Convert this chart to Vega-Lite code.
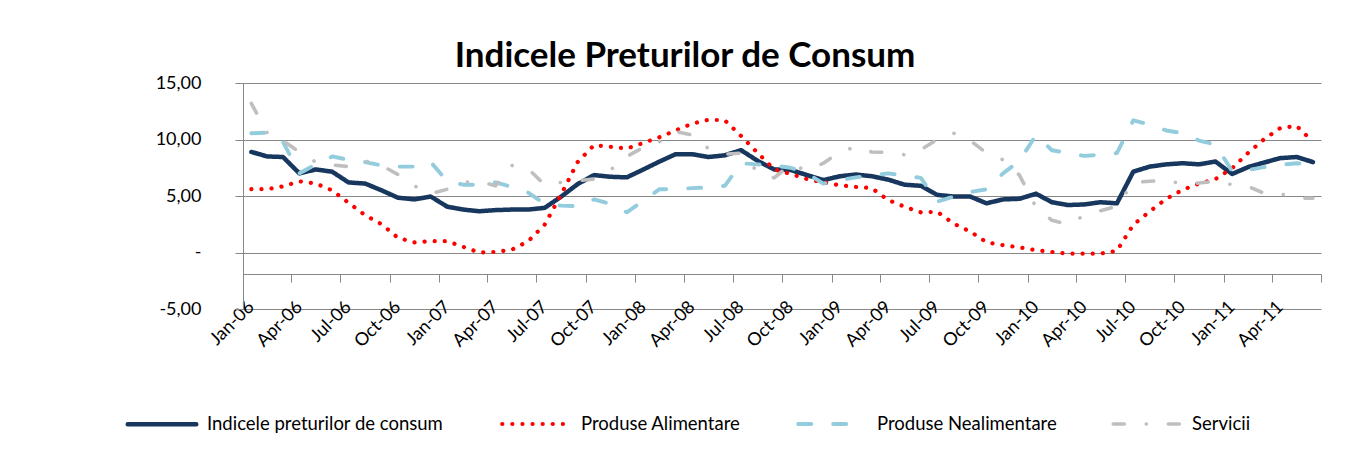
{
  "$schema": "https://vega.github.io/schema/vega-lite/v6.json",
  "width": 1078,
  "height": 226,
  "autosize": "none",
  "padding": {"left": 243, "top": 83, "right": 25, "bottom": 141},
  "background": "white",
  "config": {
    "font": "Lato",
    "view": {"stroke": null}
  },
  "title": {
    "text": "Indicele Preturilor de Consum",
    "font": "Lato",
    "fontSize": 35,
    "fontWeight": "bold",
    "color": "#000000",
    "anchor": "middle",
    "baseline": "alphabetic",
    "offset": -28,
    "dx": -97
  },
  "data": {
    "values": [
      {"d": "2006/01/01", "ipc": 8.9, "ali": 5.6, "nea": 10.55, "ser": 13.2},
      {"d": "2006/02/01", "ipc": 8.5, "ali": 5.6, "nea": 10.6, "ser": 10.6},
      {"d": "2006/03/01", "ipc": 8.45, "ali": 5.85, "nea": 9.8, "ser": 9.9},
      {"d": "2006/04/01", "ipc": 7.0, "ali": 6.3, "nea": 7.0, "ser": 8.9},
      {"d": "2006/05/01", "ipc": 7.35, "ali": 6.1, "nea": 7.8, "ser": 8.0},
      {"d": "2006/06/01", "ipc": 7.15, "ali": 5.5, "nea": 8.5, "ser": 7.75},
      {"d": "2006/07/01", "ipc": 6.2, "ali": 4.4, "nea": 8.2, "ser": 7.6},
      {"d": "2006/08/01", "ipc": 6.1, "ali": 3.3, "nea": 8.0, "ser": 8.1},
      {"d": "2006/09/01", "ipc": 5.5, "ali": 2.5, "nea": 7.7, "ser": 7.7},
      {"d": "2006/10/01", "ipc": 4.85, "ali": 1.3, "nea": 7.6, "ser": 6.9},
      {"d": "2006/11/01", "ipc": 4.7, "ali": 0.9, "nea": 7.6, "ser": 5.9},
      {"d": "2006/12/01", "ipc": 4.95, "ali": 1.0, "nea": 8.0, "ser": 5.2},
      {"d": "2007/01/01", "ipc": 4.05, "ali": 1.0, "nea": 6.3, "ser": 5.6},
      {"d": "2007/02/01", "ipc": 3.8, "ali": 0.5, "nea": 6.0, "ser": 6.2},
      {"d": "2007/03/01", "ipc": 3.65, "ali": 0.0, "nea": 6.0, "ser": 6.3},
      {"d": "2007/04/01", "ipc": 3.75, "ali": 0.05, "nea": 6.2, "ser": 5.9},
      {"d": "2007/05/01", "ipc": 3.8, "ali": 0.25, "nea": 5.8, "ser": 7.7},
      {"d": "2007/06/01", "ipc": 3.8, "ali": 1.0, "nea": 5.3, "ser": 7.4},
      {"d": "2007/07/01", "ipc": 3.95, "ali": 2.45, "nea": 4.3, "ser": 6.0},
      {"d": "2007/08/01", "ipc": 4.95, "ali": 5.15, "nea": 4.15, "ser": 6.2},
      {"d": "2007/09/01", "ipc": 6.05, "ali": 8.0, "nea": 4.1, "ser": 6.35},
      {"d": "2007/10/01", "ipc": 6.85, "ali": 9.5, "nea": 4.7, "ser": 6.5},
      {"d": "2007/11/01", "ipc": 6.7, "ali": 9.35, "nea": 4.3, "ser": 7.3},
      {"d": "2007/12/01", "ipc": 6.65, "ali": 9.2, "nea": 3.55, "ser": 8.5},
      {"d": "2008/01/01", "ipc": 7.35, "ali": 9.7, "nea": 4.6, "ser": 9.3},
      {"d": "2008/02/01", "ipc": 8.05, "ali": 10.2, "nea": 5.6, "ser": 9.8},
      {"d": "2008/03/01", "ipc": 8.7, "ali": 10.8, "nea": 5.6, "ser": 10.7},
      {"d": "2008/04/01", "ipc": 8.7, "ali": 11.4, "nea": 5.7, "ser": 10.4},
      {"d": "2008/05/01", "ipc": 8.45, "ali": 11.75, "nea": 5.75, "ser": 9.2},
      {"d": "2008/06/01", "ipc": 8.6, "ali": 11.7, "nea": 5.9, "ser": 8.7},
      {"d": "2008/07/01", "ipc": 9.05, "ali": 10.3, "nea": 7.9, "ser": 8.8},
      {"d": "2008/08/01", "ipc": 8.1, "ali": 8.8, "nea": 7.8, "ser": 7.1},
      {"d": "2008/09/01", "ipc": 7.35, "ali": 7.35, "nea": 7.7, "ser": 6.6},
      {"d": "2008/10/01", "ipc": 7.3, "ali": 6.95, "nea": 7.5, "ser": 7.8},
      {"d": "2008/11/01", "ipc": 6.85, "ali": 6.5, "nea": 7.0, "ser": 7.25},
      {"d": "2008/12/01", "ipc": 6.4, "ali": 6.2, "nea": 6.1, "ser": 7.9},
      {"d": "2009/01/01", "ipc": 6.75, "ali": 5.95, "nea": 6.4, "ser": 8.9},
      {"d": "2009/02/01", "ipc": 6.9, "ali": 5.8, "nea": 6.65, "ser": 9.35},
      {"d": "2009/03/01", "ipc": 6.75, "ali": 5.7, "nea": 6.8, "ser": 8.9},
      {"d": "2009/04/01", "ipc": 6.45, "ali": 4.65, "nea": 7.0, "ser": 8.85},
      {"d": "2009/05/01", "ipc": 6.0, "ali": 4.05, "nea": 6.8, "ser": 8.65},
      {"d": "2009/06/01", "ipc": 5.9, "ali": 3.55, "nea": 6.6, "ser": 9.1},
      {"d": "2009/07/01", "ipc": 5.1, "ali": 3.6, "nea": 4.5, "ser": 10.0},
      {"d": "2009/08/01", "ipc": 4.95, "ali": 2.55, "nea": 4.95, "ser": 10.55},
      {"d": "2009/09/01", "ipc": 4.95, "ali": 1.85, "nea": 5.35, "ser": 9.9},
      {"d": "2009/10/01", "ipc": 4.35, "ali": 0.9, "nea": 5.6, "ser": 8.8},
      {"d": "2009/11/01", "ipc": 4.7, "ali": 0.65, "nea": 7.0, "ser": 8.2},
      {"d": "2009/12/01", "ipc": 4.75, "ali": 0.45, "nea": 8.1, "ser": 6.85},
      {"d": "2010/01/01", "ipc": 5.2, "ali": 0.2, "nea": 10.4, "ser": 4.0},
      {"d": "2010/02/01", "ipc": 4.45, "ali": 0.05, "nea": 9.05, "ser": 2.85},
      {"d": "2010/03/01", "ipc": 4.2, "ali": -0.1, "nea": 8.8, "ser": 2.5},
      {"d": "2010/04/01", "ipc": 4.25, "ali": -0.1, "nea": 8.55, "ser": 3.25},
      {"d": "2010/05/01", "ipc": 4.45, "ali": -0.1, "nea": 8.65, "ser": 3.7},
      {"d": "2010/06/01", "ipc": 4.35, "ali": 0.15, "nea": 8.8, "ser": 4.1},
      {"d": "2010/07/01", "ipc": 7.15, "ali": 2.45, "nea": 11.7, "ser": 6.2},
      {"d": "2010/08/01", "ipc": 7.6, "ali": 3.65, "nea": 11.3, "ser": 6.3},
      {"d": "2010/09/01", "ipc": 7.8, "ali": 4.75, "nea": 10.8, "ser": 6.4},
      {"d": "2010/10/01", "ipc": 7.9, "ali": 5.55, "nea": 10.55, "ser": 6.05},
      {"d": "2010/11/01", "ipc": 7.8, "ali": 6.1, "nea": 9.9, "ser": 6.15},
      {"d": "2010/12/01", "ipc": 8.05, "ali": 6.5, "nea": 9.55, "ser": 6.3},
      {"d": "2011/01/01", "ipc": 6.95, "ali": 7.45, "nea": 7.2, "ser": 6.0},
      {"d": "2011/02/01", "ipc": 7.55, "ali": 8.8, "nea": 7.3, "ser": 5.85},
      {"d": "2011/03/01", "ipc": 7.95, "ali": 10.0, "nea": 7.55, "ser": 5.25},
      {"d": "2011/04/01", "ipc": 8.35, "ali": 11.0, "nea": 7.75, "ser": 5.2},
      {"d": "2011/05/01", "ipc": 8.45, "ali": 11.2, "nea": 7.9, "ser": 4.8},
      {"d": "2011/06/01", "ipc": 8.0, "ali": 9.8, "nea": 7.75, "ser": 4.8}
    ]
  },
  "transform": [
    {"fold": ["ipc", "ali", "nea", "ser"], "as": ["serie", "valoare"]}
  ],
  "mark": {"type": "line", "strokeCap": "round", "strokeJoin": "round"},
  "encoding": {
    "x": {
      "field": "d",
      "type": "temporal",
      "timeUnit": "yearmonth",
      "bandPosition": 0.5,
      "scale": {"domain": [{"year": 2006, "month": 1, "date": 1}, {"year": 2011, "month": 7, "date": 1}]},
      "axis": {
        "title": null,
        "tickCount": {"interval": "month", "step": 3},
        "labelExpr": "(year(datum.value) == 2011 && month(datum.value) == 6) ? '' : timeFormat(datum.value, '%b-%y')",
        "offset": -35,
        "domainColor": "#888888",
        "tickColor": "#888888",
        "tickSize": 8,
        "grid": false,
        "labelAngle": -45,
        "labelAlign": "right",
        "labelBaseline": "middle",
        "labelPadding": 22,
        "labelOffset": 8,
        "labelFontSize": 18,
        "labelColor": "#000000",
        "labelOverlap": false,
        "labelFlush": false,
        "labelBound": false
      }
    },
    "y": {
      "field": "valoare",
      "type": "quantitative",
      "scale": {"domain": [-5, 15], "nice": false},
      "axis": {
        "title": null,
        "values": [-5, 0, 5, 10, 15],
        "labelExpr": "datum.value == 0 ? '-' : (datum.value < 0 ? '-' : '') + replace(format(abs(datum.value), '.2f'), '.', ',')",
        "grid": true,
        "gridColor": "#888888",
        "domainColor": "#888888",
        "tickColor": "#888888",
        "tickSize": 8,
        "labelPadding": 34,
        "labelFontSize": 18,
        "labelColor": "#000000"
      }
    },
    "color": {
      "field": "serie",
      "type": "nominal",
      "scale": {
        "domain": ["ipc", "ali", "nea", "ser"],
        "range": ["#17375E", "#FF0000", "#93CDDD", "#BFBFBF"]
      },
      "legend": {
        "title": null,
        "orient": "none",
        "direction": "horizontal",
        "legendX": -118,
        "legendY": 304,
        "symbolType": "stroke",
        "symbolSize": 4700,
        "symbolStrokeWidth": 4,
        "labelFontSize": 18.5,
        "labelColor": "#000000",
        "labelOffset": 8,
        "columnPadding": 49,
        "labelExpr": "{'ipc': 'Indicele preturilor de consum', 'ali': 'Produse Alimentare', 'nea': 'Produse Nealimentare', 'ser': 'Servicii'}[datum.value]",
        "labelLimit": 400,
        "encode": {"symbols": {"update": {"strokeCap": {"value": "round"}}}}
      }
    },
    "strokeDash": {
      "field": "serie",
      "type": "nominal",
      "scale": {
        "domain": ["ipc", "ali", "nea", "ser"],
        "range": [[1, 0], [0.1, 10], [13, 22], [11, 22, 0.1, 22]]
      }
    },
    "strokeWidth": {
      "field": "serie",
      "type": "nominal",
      "scale": {
        "domain": ["ipc", "ali", "nea", "ser"],
        "range": [4.5, 3.6, 4, 4]
      },
      "legend": null
    }
  }
}
